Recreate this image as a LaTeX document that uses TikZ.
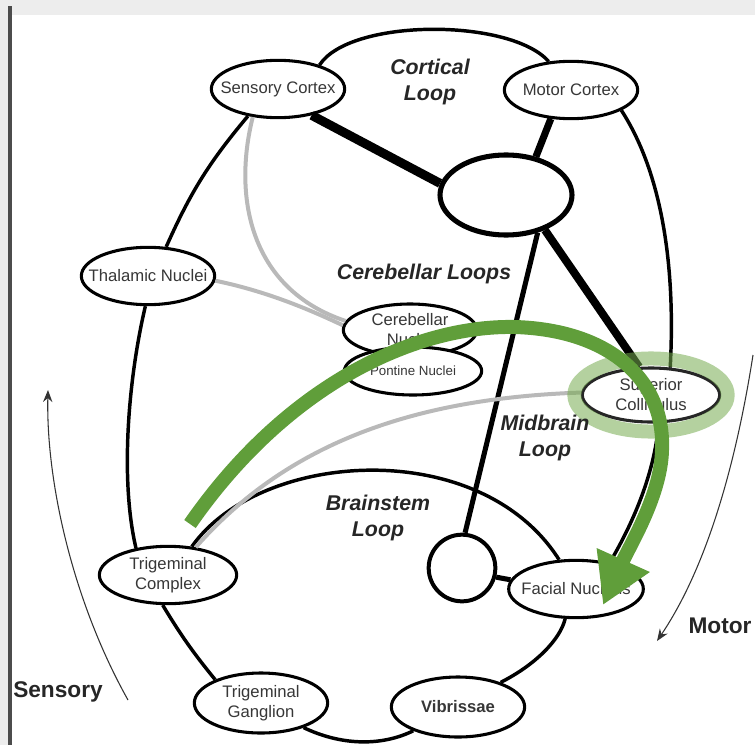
\documentclass[tikz,border=0pt]{standalone}
\usepackage{fontspec}
\setmainfont{Liberation Sans}
\usetikzlibrary{arrows.meta,shapes.geometric}
\definecolor{pathcol}{RGB}{96,158,58}
\definecolor{halocol}{RGB}{118,172,80}
\definecolor{fibrecol}{RGB}{185,185,185}
\definecolor{labelcol}{RGB}{55,55,55}

\begin{document}
\begin{tikzpicture}[x=0.75pt,y=-0.75pt,>=Stealth,
  nucleus/.style={ellipse,draw,line width=2.3pt,fill=white,inner xsep=-40pt,inner ysep=0pt,
    minimum width=100pt,minimum height=43pt,align=center,text=labelcol,
    font=\fontsize{12.5}{15}\selectfont},
  relay/.style={draw,fill=white,inner sep=0pt},
  loopname/.style={font=\fontsize{16}{20}\selectfont\bfseries\itshape,align=center,text=black!85},
  side/.style={font=\fontsize{17}{20}\selectfont\bfseries,text=black!85},
  tract/.style={line width=2.6pt},
  fibre/.style={fibrecol,line width=3pt},
  drift/.style={-{Stealth[length=9pt,width=7pt]},line width=0.8pt,black!80}]
% frame of the screenshot
\useasboundingbox (0,0) rectangle (755,745);
\fill[black!7] (0,0) rectangle (755,15);
\fill[black!7] (0,0) rectangle (8,745);
\fill[black!70] (8,6) rectangle (12,745);
% nuclei
\node[nucleus] (sensctx) at (278,89) {Sensory Cortex};
\node[nucleus] (motctx) at (571,90) {Motor Cortex};
\node[relay,ellipse,minimum width=99pt,minimum height=60pt,line width=3.8pt] (hub) at (506,195) {};
\node[nucleus] (thal) at (148,276) {Thalamic Nuclei};
\node[nucleus,minimum height=39pt] (cbn) at (410,330) {Cerebellar\\Nuclei};
\node[nucleus,minimum width=103pt,minimum height=36pt,font=\fontsize{10}{12}\selectfont] (pontine) at (413,371) {Pontine Nuclei};
\node[nucleus,minimum width=103pt,minimum height=40.5pt,draw=black!85] (supcol) at (651,395) {Superior\\Colliculus};
\node[nucleus,minimum width=103pt] (trigcx) at (168,575) {Trigeminal\\Complex};
\node[relay,circle,minimum size=50pt,line width=3pt] (relaycirc) at (462,568) {};
\node[nucleus,minimum width=101pt] (facial) at (576,589) {Facial Nucleus};
\node[nucleus,minimum height=45pt] (trigg) at (261,703) {Trigeminal\\Ganglion};
\node[nucleus,minimum height=45pt,font=\fontsize{12.5}{15}\selectfont\bfseries] (vib) at (458,707) {Vibrissae};
% outer loop
\draw[tract] (sensctx.30) .. controls (350,18) and (510,18) .. (motctx.128);
\draw[tract] (sensctx.222) to[bend right=8] (thal.58);
\draw[tract] (thal.265) .. controls (128,380) and (120,480) .. (trigcx.140);
\draw[tract] (trigcx.260) to[bend right=4] (trigg.153);
\draw[tract] (trigg.330) .. controls (340,745) and (380,747) .. (vib.208);
\draw[tract] (vib.30) .. controls (535,665) and (560,640) .. (facial.250);
\draw[tract] (motctx.338) .. controls (660,170) and (676,260) .. (supcol.55);
\draw[tract] (supcol.285) .. controls (655,470) and (635,520) .. (facial.38);
% brainstem loop
\draw[tract] (trigcx.50) .. controls (260,450) and (480,435) .. (facial.120);
% cortical and midbrain relays
\draw[line width=6.8pt] (sensctx.322) -- (hub.170);
\draw[line width=5.3pt] (motctx.235) -- (hub.52);
\draw[line width=6pt] (hub.318) -- (supcol.113);
\draw[line width=3.8pt] (hub.310) -- (relaycirc.85);
\draw[line width=3.8pt] (relaycirc.345) -- (facial.172);
% cerebellar fibres
\draw[fibre] (sensctx.228) .. controls (232,200) and (252,290) .. (cbn.172);
\draw[fibre] (thal.356) .. controls (260,290) and (300,305) .. (cbn.176);
\draw[fibre] (supcol.178) .. controls (420,398) and (290,440) .. (trigcx.45);
% highlight round the colliculus
\draw[halocol,opacity=.55,line width=10.5pt] (supcol.center) ellipse [x radius=57.5pt,y radius=27.4pt];
% loop names
\node[loopname] (cortloop) at (430,82) {Cortical\\Loop};
\node[loopname] (cbloop) at (424,274) {Cerebellar Loops};
\node[loopname] (mbloop) at (545,438) {Midbrain\\Loop};
\node[loopname] (bsloop) at (378,518) {Brainstem\\Loop};
% sensory / motor direction
\node[side] (sensory) at (58,692) {Sensory};
\node[side] (motor) at (720,626) {Motor};
\coordinate (sensfoot) at (128,700);
\coordinate (senshead) at (48,390);
\draw[drift] (sensfoot) .. controls (72,600) and (46,480) .. (senshead);
\coordinate (motfoot) at (753,355);
\coordinate (mothead) at (657,641);
\draw[drift] (motfoot) .. controls (735,470) and (705,570) .. (mothead);
% green whisking path
\coordinate (gstart) at (190,524);
\coordinate (gtip) at (603,605);
\draw[pathcol,line width=10.5pt,-{Triangle[length=37pt,width=41pt]}] (gstart) .. controls (290,380) and (420,325) .. (515,327) .. controls (610,330) and (665,380) .. (662,450) .. controls (661,495) and (630,545) .. (gtip);
\end{tikzpicture}
\end{document}
